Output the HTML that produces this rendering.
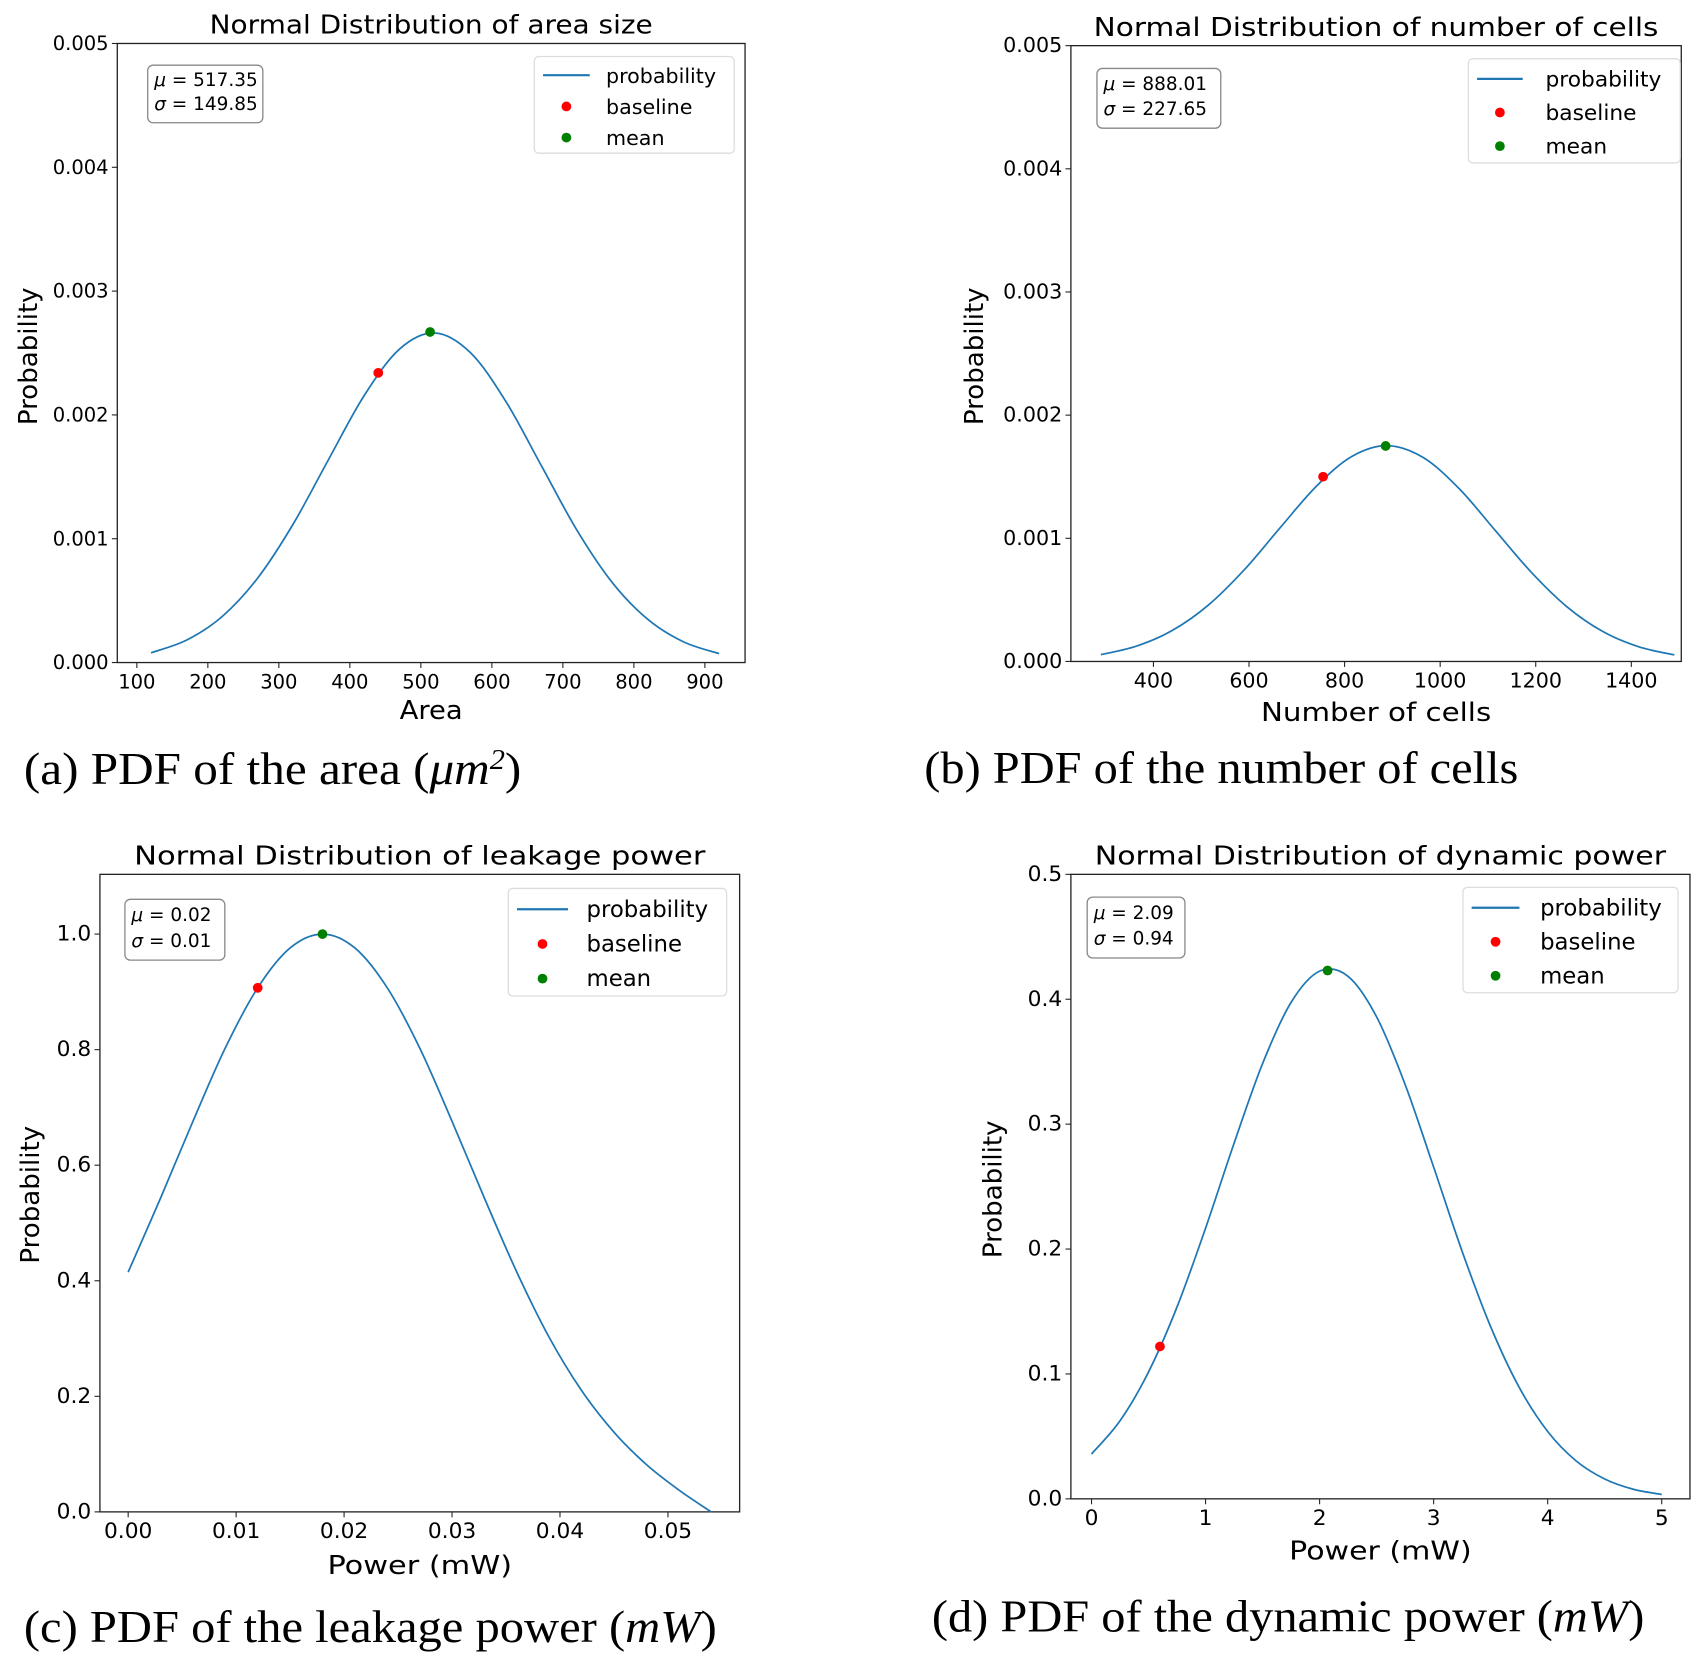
<!DOCTYPE html>
<html><head><meta charset="utf-8"><style>
html,body{margin:0;padding:0;background:#fff;}
svg{display:block;}
text{font-family:"DejaVu Sans","Liberation Sans",sans-serif;fill:#000;}
.cap{font-family:"Liberation Serif",serif;}
</style></head><body>
<svg id="fig" width="1703" height="1677" viewBox="0 0 1568 1544" xmlns="http://www.w3.org/2000/svg"></svg>
<script>
// ---- Panel A data (area) ----
const aX = [120,170,220,270,320,370,420,470,520,570,620,670,720,770,820,870,920];
const aY = [0.000079,0.000181,0.000371,0.000681,0.001117,0.00164,0.002155,0.002532,0.002662,0.002502,0.002106,0.001587,0.001067,0.000643,0.000347,0.000167,0.000072];
const aXTicks = [100,200,300,400,500,600,700,800,900];
const aYTicks = [0,0.001,0.002,0.003,0.004,0.005];
const aYTickLabels = ["0.000","0.001","0.002","0.003","0.004","0.005"];
const aBaseline = [440,0.00234];
const aMean = [513,0.00267];
// ---- Panel B data (cells) ----
const bX = [290,365,440,515,590,665,740,815,890,965,1040,1115,1190,1265,1340,1415,1490];
const bY = [0.0000555,0.000125,0.000253,0.000458,0.000744,0.001085,0.001419,0.001664,0.001752,0.001655,0.001402,0.001065,0.000727,0.000445,0.000244,0.00012,0.000053];
const bXTicks = [400,600,800,1000,1200,1400];
const bYTicks = [0,0.001,0.002,0.003,0.004,0.005];
const bYTickLabels = ["0.000","0.001","0.002","0.003","0.004","0.005"];
const bBaseline = [755,0.0015];
const bMean = [886,0.00175];
// ---- Panel C data (leakage) ----
const cX = [0,0.003,0.006,0.009,0.012,0.015,0.018,0.021,0.024,0.027,0.030,0.033,0.036,0.039,0.042,0.045,0.048,0.051,0.054];
const cY = [0.415,0.543,0.676,0.803,0.907,0.976,1.0,0.976,0.907,0.803,0.676,0.543,0.415,0.302,0.21,0.138,0.082,0.038,0.0];
const cXTicks = [0,0.01,0.02,0.03,0.04,0.05];
const cXTickLabels = ["0.00","0.01","0.02","0.03","0.04","0.05"];
const cYTicks = [0,0.2,0.4,0.6,0.8,1.0];
const cYTickLabels = ["0.0","0.2","0.4","0.6","0.8","1.0"];
const cBaseline = [0.012,0.907];
const cMean = [0.018,1.0];
// ---- Panel D data (dynamic) ----
const dX = [0,0.25,0.5,0.75,1,1.25,1.5,1.75,2,2.25,2.5,2.75,3,3.25,3.5,3.75,4,4.25,4.5,4.75,5];
const dY = [0.0359,0.0625,0.1016,0.1537,0.2167,0.2847,0.3485,0.3975,0.4225,0.4183,0.3859,0.3317,0.2656,0.1981,0.1378,0.0893,0.0539,0.0303,0.0159,0.0077,0.0035];
const dXTicks = [0,1,2,3,4,5];
const dYTicks = [0,0.1,0.2,0.3,0.4,0.5];
const dYTickLabels = ["0.0","0.1","0.2","0.3","0.4","0.5"];
const dBaseline = [0.6,0.122];
const dMean = [2.07,0.423];

const NS = "http://www.w3.org/2000/svg";
const fig = document.getElementById('fig');
function mk(tag, attrs, parent){
  const e = document.createElementNS(NS, tag);
  for (const k in attrs) e.setAttribute(k, attrs[k]);
  (parent||fig).appendChild(e);
  return e;
}

function panel(P){
  const g = mk('g', {});
  
  
  const sx = v => P.xa[0] + (v - P.xd[0]) * (P.xa[1]-P.xa[0]) / (P.xd[1]-P.xd[0]);
  const sy = v => P.ya[0] + (v - P.yd[0]) * (P.ya[1]-P.ya[0]) / (P.yd[1]-P.yd[0]);
  const fr = mk('rect', {x:P.L, y:P.T, width:P.R-P.L, height:P.B-P.T, fill:'none', stroke:'#222', 'stroke-width':1.2}, g);
  
  
  P.xt.forEach((v,i) => {
    const x = sx(v);
    mk('line', {x1:x, x2:x, y1:P.B, y2:P.B+5, stroke:'#222', 'stroke-width':1}, g);
    const t = mk('text', {x:x, y:P.B+24, 'font-size':P.tf, 'text-anchor':'middle'}, g);
    
    
    t.textContent = P.xtl ? P.xtl[i] : String(v);
  });
  P.yt.forEach((v,i) => {
    const y = sy(v);
    mk('line', {x1:P.L-5, x2:P.L, y1:y, y2:y, stroke:'#222', 'stroke-width':1}, g);
    const t = mk('text', {x:P.L-8, y:y+6, 'font-size':P.tf, 'text-anchor':'end'}, g);
    
    
    t.textContent = P.ytl[i];
  });
  const pts = P.xs.map((v,i) => [sx(v), sy(P.ys[i])]);
  let d = 'M' + pts[0][0] + ',' + pts[0][1];
  for (let i=0;i<pts.length-1;i++){
    const p0 = pts[Math.max(0,i-1)], p1 = pts[i], p2 = pts[i+1], p3 = pts[Math.min(pts.length-1,i+2)];
    const c1 = [p1[0]+(p2[0]-p0[0])/6, p1[1]+(p2[1]-p0[1])/6];
    const c2 = [p2[0]-(p3[0]-p1[0])/6, p2[1]-(p3[1]-p1[1])/6];
    d += ' C' + c1.join(',') + ' ' + c2.join(',') + ' ' + p2.join(',');
  }
  const cv = mk('path', {d:d, fill:'none', stroke:'#1f77b4', 'stroke-width':1.6}, g);
  
  
  const bp = mk('circle', {cx:sx(P.base[0]), cy:sy(P.base[1]), r:4.5, fill:'red'}, g);
  
  
  const mp = mk('circle', {cx:sx(P.mean[0]), cy:sy(P.mean[1]), r:4.5, fill:'green'}, g);
  
  
  const ti = mk('text', {x:(P.L+P.R)/2, y:P.T-9, 'font-size':24, 'text-anchor':'middle', textLength:P.titleW, lengthAdjust:'spacingAndGlyphs'}, g);
  
  
  ti.textContent = P.title;
  const xl = mk('text', {x:(P.L+P.R)/2, y:P.xly, 'font-size':24, 'text-anchor':'middle', textLength:P.xlw, lengthAdjust:'spacingAndGlyphs'}, g);
  
  
  xl.textContent = P.xlabel;
  const yl = mk('text', {x:0, y:0, 'font-size':24, 'text-anchor':'middle', transform:'translate('+P.ylx+','+P.yly+') rotate(-90)'}, g);
  
  
  yl.textContent = 'Probability';
  const sb = P.sb;
  const sr = mk('rect', {x:sb[0], y:sb[1], width:sb[2], height:sb[3], rx:5, fill:'#fff', stroke:'#888', 'stroke-width':1.2}, g);
  
  
  const s1 = mk('text', {x:sb[0]+6, y:sb[1]+sb[3]*0.36, 'font-size':17}, g);
  
  
  s1.innerHTML = '<tspan font-style="italic">μ</tspan> = ' + P.mu;
  const s2 = mk('text', {x:sb[0]+6, y:sb[1]+sb[3]*0.78, 'font-size':17}, g);
  
  
  s2.innerHTML = '<tspan font-style="italic">σ</tspan> = ' + P.sigma;
  const lg = P.lg;
  const lr = mk('rect', {x:lg[0], y:lg[1], width:lg[2], height:lg[3], rx:4, fill:'#fff', stroke:'#ddd', 'stroke-width':1.2}, g);
  
  
  const step = lg[3]/3.1;
  const ys = [lg[1]+step*0.6, lg[1]+step*1.6, lg[1]+step*2.6];
  mk('line', {x1:lg[0]+8, x2:lg[0]+8+P.lineW, y1:ys[0], y2:ys[0], stroke:'#1f77b4', 'stroke-width':2}, g);
  mk('circle', {cx:lg[0]+8+P.lineW/2, cy:ys[1], r:4.5, fill:'red'}, g);
  mk('circle', {cx:lg[0]+8+P.lineW/2, cy:ys[2], r:4.5, fill:'green'}, g);
  ['probability','baseline','mean'].forEach((s,i) => {
    const t = mk('text', {x:lg[0]+P.lgt, y:ys[i]+7, 'font-size':P.lf}, g);
    
    
    t.textContent = s;
  });
  const cp = mk('text', {x:P.cap[0], y:P.cap[1], 'font-size':42, class:'cap', textLength:P.cap[2], lengthAdjust:'spacingAndGlyphs'}, g);
  
  
  cp.innerHTML = P.capHtml;
}

panel({id:'area', L:108,R:686,T:40,B:610, xd:[100,900], xa:[126,649], yd:[0,0.005], ya:[610,40],
  xs:aX, ys:aY, xt:aXTicks, yt:aYTicks, ytl:aYTickLabels, base:aBaseline, mean:aMean, tf:18,
  title:'Normal Distribution of area size', titleW:408, xlabel:'Area', xlw:58, xly:662, ylx:34, yly:328,
  sb:[136,60,106,53], mu:'517.35', sigma:'149.85', lg:[492,52,184,89], lineW:43, lgt:66, lf:19,
  cap:[22,722,458], capHtml:'(a) PDF of the area (<tspan font-style="italic">μm</tspan><tspan dy="-14" font-size="26" font-style="italic">2</tspan><tspan dy="14">)</tspan>'});
panel({id:'cells', L:986,R:1548,T:42,B:609, xd:[400,1400], xa:[1062,1502], yd:[0,0.005], ya:[609,42],
  xs:bX, ys:bY, xt:bXTicks, yt:bYTicks, ytl:bYTickLabels, base:bBaseline, mean:bMean, tf:19,
  title:'Normal Distribution of number of cells', titleW:520, xlabel:'Number of cells', xlw:212, xly:664, ylx:905, yly:328,
  sb:[1010,63,114,55], mu:'888.01', sigma:'227.65', lg:[1352,54,195,96], lineW:42, lgt:71, lf:20,
  cap:[851,721,547], capHtml:'(b) PDF of the number of cells'});
panel({id:'leakage', L:92,R:681,T:805,B:1392, xd:[0,0.05], xa:[118,615], yd:[0,1.0], ya:[1392,860],
  xs:cX, ys:cY, xt:cXTicks, xtl:cXTickLabels, yt:cYTicks, ytl:cYTickLabels, base:cBaseline, mean:cMean, tf:20,
  title:'Normal Distribution of leakage power', titleW:526, xlabel:'Power (mW)', xlw:170, xly:1449, ylx:36, yly:1100,
  sb:[115,828,92,56], mu:'0.02', sigma:'0.01', lg:[468,818,201,99], lineW:47, lgt:72, lf:21,
  cap:[22,1512,638], capHtml:'(c) PDF of the leakage power (<tspan font-style="italic">mW</tspan>)'});
panel({id:'dynamic', L:986,R:1556,T:805,B:1380, xd:[0,5], xa:[1005,1530], yd:[0,0.5], ya:[1380,805],
  xs:dX, ys:dY, xt:dXTicks, yt:dYTicks, ytl:dYTickLabels, base:dBaseline, mean:dMean, tf:20,
  title:'Normal Distribution of dynamic power', titleW:526, xlabel:'Power (mW)', xlw:168, xly:1436, ylx:922, yly:1095,
  sb:[1001,826,90,56], mu:'2.09', sigma:'0.94', lg:[1347,817,198,97], lineW:44, lgt:71, lf:21,
  cap:[858,1502,656], capHtml:'(d) PDF of the dynamic power (<tspan font-style="italic">mW</tspan>)'});
</script>
</body></html>
